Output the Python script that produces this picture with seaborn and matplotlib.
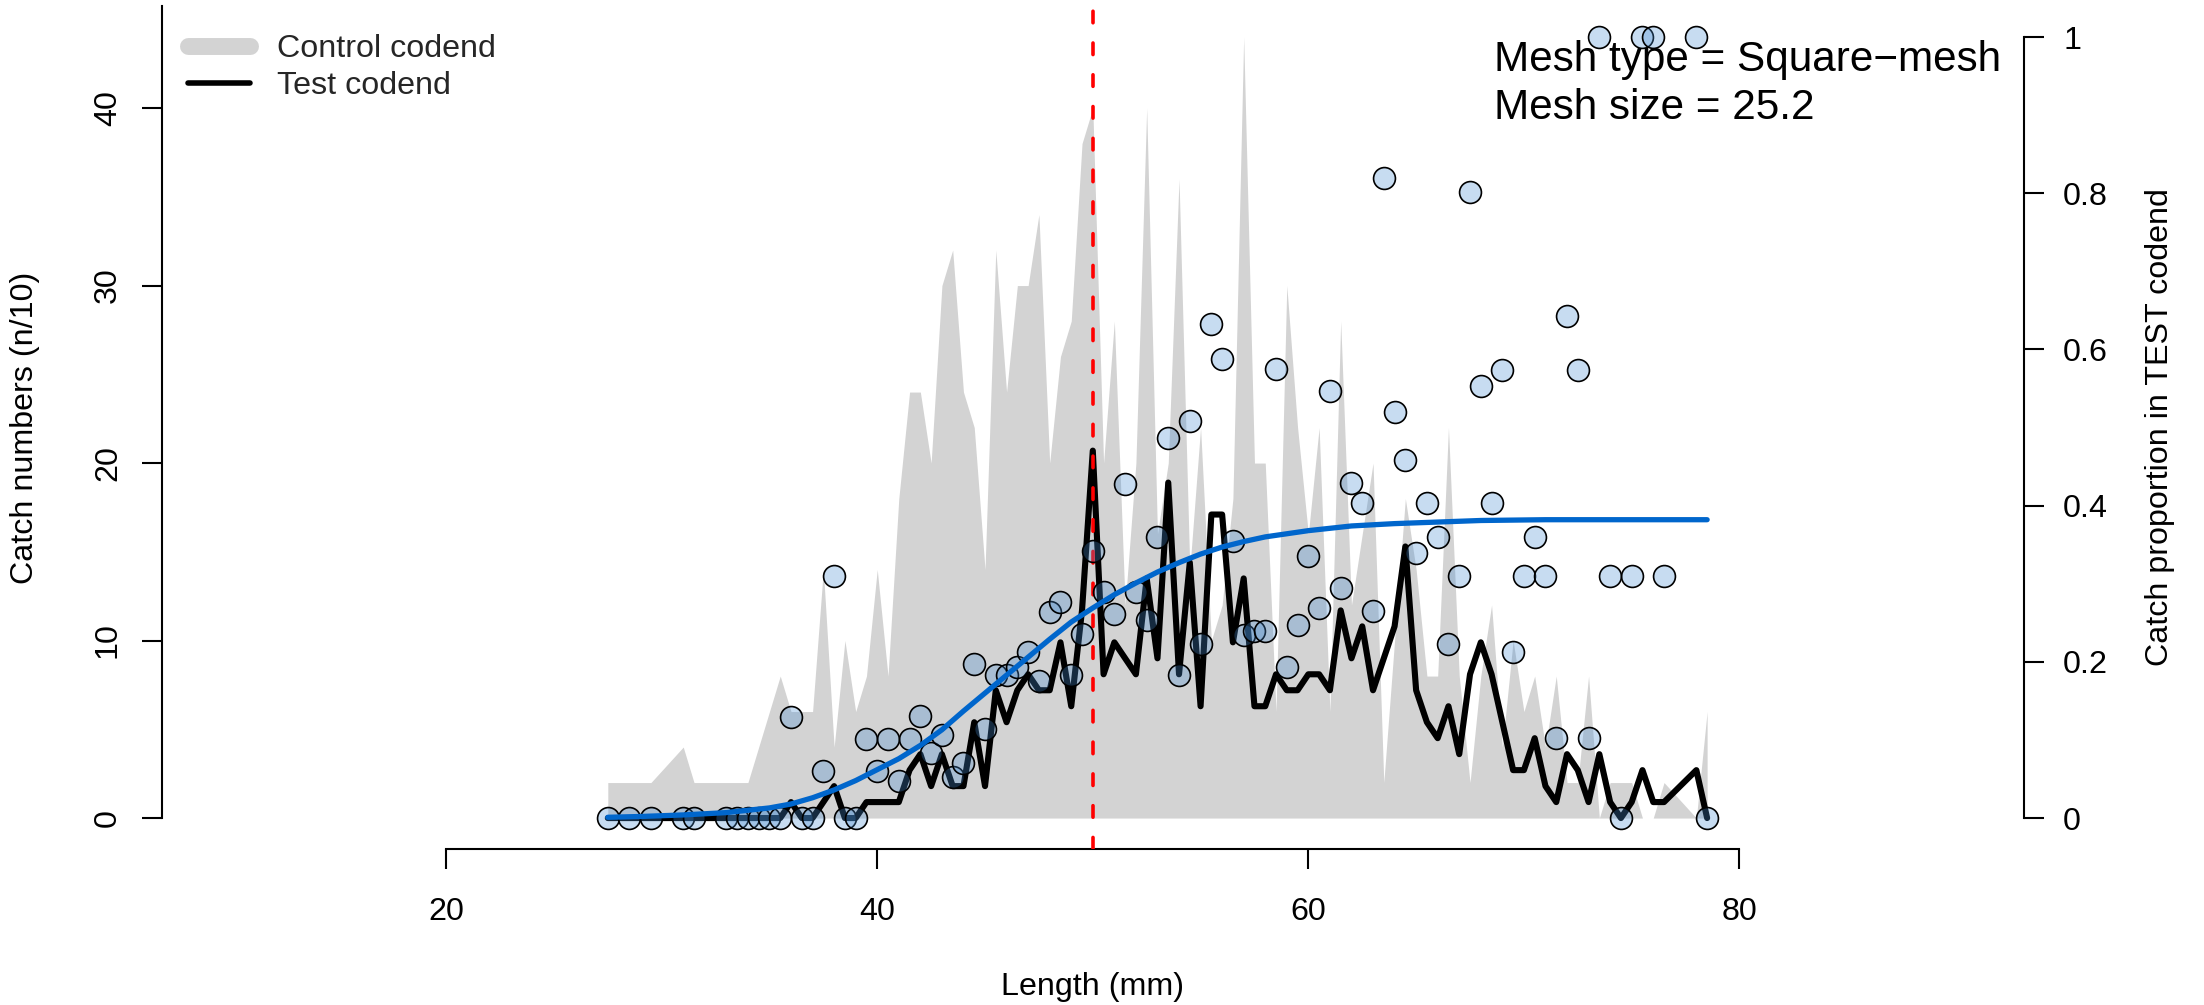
import matplotlib
matplotlib.use("Agg")
import matplotlib.pyplot as plt
from matplotlib.lines import Line2D
import seaborn as sns
import numpy as np
import pandas as pd

# length classes (mm) present in the catch
length = [27.5, 28.5, 29.5, 31, 31.5, 33, 33.5, 34, 34.5, 35, 35.5, 36, 36.5, 37, 37.5,
          38, 38.5, 39, 39.5, 40, 40.5, 41, 41.5, 42, 42.5, 43, 43.5, 44, 44.5, 45,
          45.5, 46, 46.5, 47, 47.5, 48, 48.5, 49, 49.5, 50, 50.5, 51, 51.5, 52, 52.5,
          53, 53.5, 54, 54.5, 55, 55.5, 56, 56.5, 57, 57.5, 58, 58.5, 59, 59.5, 60,
          60.5, 61, 61.5, 62, 62.5, 63, 63.5, 64, 64.5, 65, 65.5, 66, 66.5, 67, 67.5,
          68, 68.5, 69, 69.5, 70, 70.5, 71, 71.5, 72, 72.5, 73, 73.5, 74, 74.5, 75,
          75.5, 76, 76.5, 78, 78.5]

# control codend catch (n/10)
control = [2, 2, 2, 4, 2, 2, 2, 2, 4, 6, 8, 6, 6, 6, 14,
           4, 10, 6, 8, 14, 8, 18, 24, 24, 20, 30, 32, 24, 22, 14,
           32, 24, 30, 30, 34, 20, 26, 28, 38, 40, 20, 28, 12, 20, 40,
           16, 20, 36, 14, 22, 10, 12, 18, 44, 20, 20, 6, 30, 22, 16,
           22, 6, 28, 12, 16, 20, 2, 10, 18, 14, 8, 8, 22, 8, 2,
           8, 12, 4, 10, 6, 8, 4, 8, 2, 2, 8, 0, 2, 2, 2,
           0, 0, 2, 0, 6]

# test codend catch (n/10)
test = [0, 0, 0, 0, 0, 0, 0, 0, 0, 0, 0, 0.9, 0, 0, 0.9,
        1.8, 0, 0, 0.9, 0.9, 0.9, 0.9, 2.7, 3.6, 1.8, 3.6, 1.8, 1.8, 5.4, 1.8,
        7.2, 5.4, 7.2, 8.1, 7.2, 7.2, 9.9, 6.3, 11.7, 20.7, 8.1, 9.9, 9.0, 8.1, 13.5,
        9.0, 18.9, 8.1, 14.4, 6.3, 17.1, 17.1, 9.9, 13.5, 6.3, 6.3, 8.1, 7.2, 7.2, 8.1,
        8.1, 7.2, 11.7, 9.0, 10.8, 7.2, 9.0, 10.8, 15.3, 7.2, 5.4, 4.5, 6.3, 3.6, 8.1,
        9.9, 8.1, 5.4, 2.7, 2.7, 4.5, 1.8, 0.9, 3.6, 2.7, 0.9, 3.6, 0.9, 0, 0.9,
        2.7, 0.9, 0.9, 2.7, 0]

# observed catch proportion in the test codend
prop_test = [0, 0, 0, 0, 0, 0, 0, 0, 0, 0, 0, 0.130, 0, 0, 0.060,
             0.310, 0, 0, 0.101, 0.060, 0.101, 0.047, 0.101, 0.131, 0.083, 0.106, 0.053, 0.070, 0.197, 0.114,
             0.183, 0.183, 0.193, 0.213, 0.175, 0.264, 0.276, 0.183, 0.236, 0.342, 0.289, 0.261, 0.428, 0.289, 0.253,
             0.360, 0.486, 0.183, 0.508, 0.223, 0.632, 0.588, 0.355, 0.234, 0.240, 0.240, 0.575, 0.194, 0.247, 0.336,
             0.269, 0.547, 0.295, 0.429, 0.404, 0.265, 0.819, 0.520, 0.459, 0.340, 0.403, 0.360, 0.223, 0.310, 0.802,
             0.553, 0.403, 0.574, 0.213, 0.310, 0.360, 0.310, 0.103, 0.643, 0.574, 0.103, 1.0, 0.310, 0, 0.310,
             1.0, 1.0, 0.310, 1.0, 0]

# fitted selection curve
fit_length = [27.5, 29, 31, 33, 35, 36, 37, 38, 39, 40, 41, 42, 43, 44, 45, 46, 47, 48,
              49, 50, 51, 52, 53, 54, 55, 56, 57, 58, 60, 62, 64, 66, 68, 71, 75, 78.5]
fit_prop = [0.001, 0.002, 0.004, 0.007, 0.013, 0.018, 0.026, 0.036, 0.048, 0.062, 0.076,
            0.093, 0.113, 0.137, 0.160, 0.183, 0.206, 0.229, 0.251, 0.269, 0.286, 0.301,
            0.315, 0.327, 0.338, 0.347, 0.354, 0.360, 0.368, 0.374, 0.377, 0.379, 0.381,
            0.382, 0.382, 0.382]

l50 = 50.0
mesh_type = "Square\u2212mesh"
mesh_size = 25.2

sns.set_theme(style="ticks")
plt.rcParams['font.family'] = ['Liberation Sans', 'DejaVu Sans']

W, H = 2204, 1005
DPI = 200
FS = 11.6

fig = plt.figure(figsize=(W / DPI, H / DPI), dpi=DPI)
ax = fig.add_axes([161.6 / W, 1 - 849.3 / H, (2024 - 161.6) / W, (849.3 - 5.8) / H])
ax2 = ax.twinx()

ax.set_xlim(6.8, 93.2)
ax.set_ylim(-1.76, 45.76)
ax2.set_ylim(-0.04, 1.04)

# control codend as grey area, test codend as black line
ax.fill_between(length, control, 0, color='#D3D3D3', lw=0, zorder=1)
sns.lineplot(x=length, y=test, ax=ax, color='black', lw=2.2, estimator=None, sort=False,
             solid_joinstyle='round', solid_capstyle='round', zorder=2)
ax.axvline(l50, color='red', lw=1.3, ls=(0, (3.2, 5.6)), dash_capstyle='round', zorder=3)

# proportions and fitted curve on the right axis
sns.scatterplot(x=length, y=prop_test, ax=ax2, s=62, color=(70 / 255, 140 / 255, 210 / 255, 0.3),
                edgecolor='black', linewidth=0.6, zorder=3)
sns.lineplot(x=fit_length, y=fit_prop, ax=ax2, color='#0066CC', lw=1.9, estimator=None,
             sort=False, solid_capstyle='round', zorder=4)

# R-like detached axes
for s in ['top', 'right']:
    ax.spines[s].set_visible(False)
for s in ['top', 'left', 'bottom']:
    ax2.spines[s].set_visible(False)
ax.spines['left'].set_bounds(0, 45.76)
ax.spines['bottom'].set_bounds(20, 80)
ax2.spines['right'].set_bounds(0, 1)
for sp in [ax.spines['left'], ax.spines['bottom'], ax2.spines['right']]:
    sp.set_color('black')
    sp.set_linewidth(0.75)

ax.set_xticks([20, 40, 60, 80])
ax.set_xticklabels(['20', '40', '60', '80'])
ax.set_yticks([0, 10, 20, 30, 40])
ax.set_yticklabels(['0', '10', '20', '30', '40'], rotation=90, va='center')
ax2.set_yticks([0, 0.2, 0.4, 0.6, 0.8, 1.0])
ax2.set_yticklabels(['0', '0.2', '0.4', '0.6', '0.8', '1'])

ax.tick_params(axis='both', direction='out', length=7.2, width=0.75, colors='black', labelsize=FS)
ax.tick_params(axis='x', pad=9.8)
ax.tick_params(axis='y', pad=6.7)
ax2.tick_params(axis='y', direction='out', length=7.2, width=0.75, colors='black', labelsize=FS, pad=6.9)

ax.set_xlabel("Length (mm)", fontsize=FS, color='black')
ax.xaxis.set_label_coords(0.5, (849.3 - 987) / 843.5)
ax.xaxis.label.set_va('center')
ax.set_ylabel("Catch numbers (n/10)", fontsize=FS, color='black')
ax.yaxis.set_label_coords((25 - 161.6) / 1862.4, 0.5)
ax.yaxis.label.set_va('center')
ax2.set_ylabel("Catch proportion in TEST codend", fontsize=FS, color='black')
ax2.yaxis.set_label_coords((2160 - 161.6) / 1862.4, 0.5)
ax2.yaxis.label.set_va('center')

handles = [Line2D([], [], color='#D3D3D3', lw=6.1, solid_capstyle='round'),
           Line2D([], [], color='black', lw=2.0, solid_capstyle='round')]
ax.legend(handles, ['Control codend', 'Test codend'], loc='upper left',
          bbox_to_anchor=(188 / W, 1 - 34 / H), bbox_transform=fig.transFigure,
          frameon=False, fontsize=FS, handlelength=1.92, handletextpad=0.84,
          labelspacing=0.22, borderpad=0, borderaxespad=0)

ax.text(1494 / W, 1 - 70.5 / H, f"Mesh type = {mesh_type}", transform=fig.transFigure,
        fontsize=15.2, va='baseline', ha='left', color='black')
ax.text(1494 / W, 1 - 119 / H, f"Mesh size = {mesh_size}", transform=fig.transFigure,
        fontsize=15.2, va='baseline', ha='left', color='black')

fig.savefig('out.png', dpi=DPI)
